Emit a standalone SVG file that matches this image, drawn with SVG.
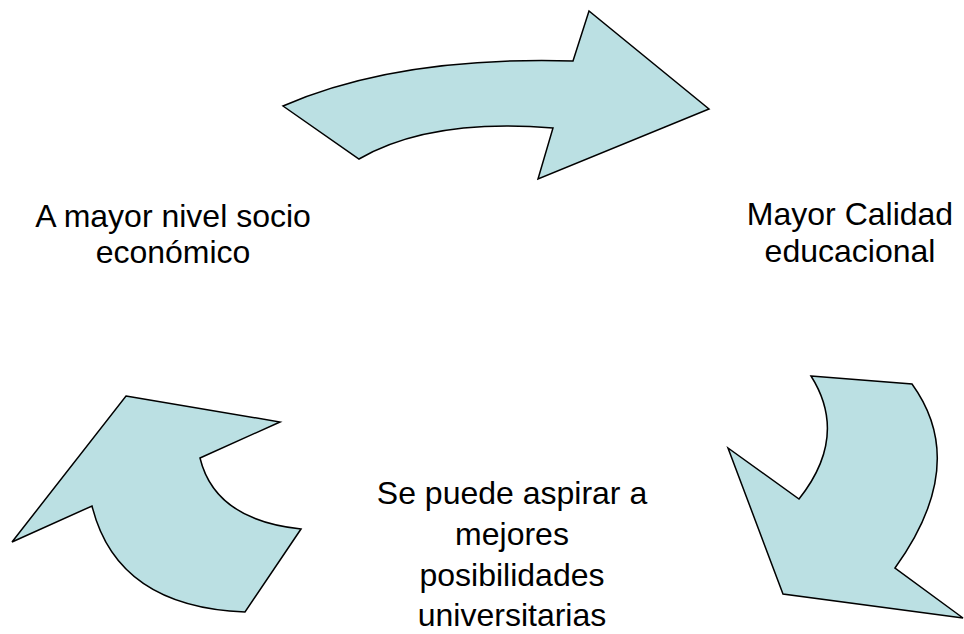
<svg xmlns="http://www.w3.org/2000/svg" width="964" height="634" viewBox="0 0 964 634">
<style>
.arrow{fill:#BBE0E3;stroke:#000;stroke-width:1.5;stroke-linejoin:miter}
.lbl{font-family:"Liberation Sans",Arial,sans-serif;font-size:32px;fill:#000;text-anchor:middle}
</style>
<rect width="964" height="634" fill="#fff"/>
<g id="connectors">
<path id="arrow-top" class="arrow" d="M283,106 Q398,56 573,61 L589,11 L709,109 L538,179 L553,128 Q430,118 359,159 Z"/>
<path id="arrow-right" class="arrow" d="M811,376 L912,384 Q970,464 895,568 L963,618 L783,594 L728,448 L799,499 Q849,436 811,376 Z"/>
<path id="arrow-left" class="arrow" d="M126,396 L280,422 L200,458 Q215,520 301,529 L245,612 Q117,607 92,506 L12,542 Z"/>
</g>
<g id="node-nivel">
<text class="lbl" x="173" y="227">A mayor nivel socio</text>
<text class="lbl" x="173" y="263">económico</text>
</g>
<g id="node-calidad">
<text class="lbl" x="850" y="225">Mayor Calidad</text>
<text class="lbl" x="850" y="262">educacional</text>
</g>
<g id="node-posibilidades">
<text class="lbl" x="512" y="504">Se puede aspirar a</text>
<text class="lbl" x="512" y="545">mejores</text>
<text class="lbl" x="512" y="586">posibilidades</text>
<text class="lbl" x="512" y="626">universitarias</text>
</g>
</svg>
